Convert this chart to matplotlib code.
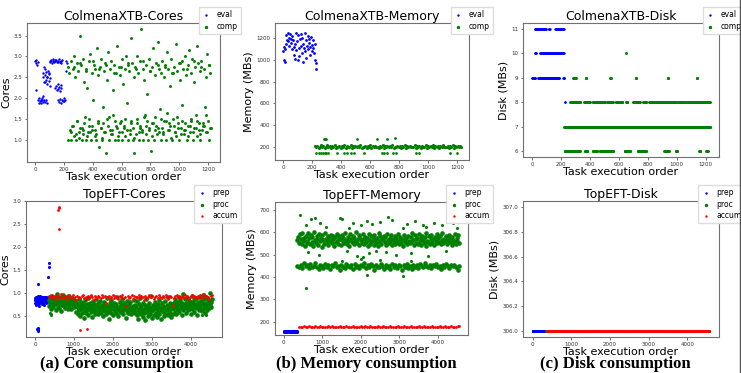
import numpy as np
import matplotlib
matplotlib.use("Agg")
import matplotlib.pyplot as plt
from matplotlib.lines import Line2D

W, H = 741, 373

# ---- ColmenaXTB cores ----
EVAL_CORES_X = [0, 4, 8, 12, 16, 3, 20, 24, 28, 32, 36, 40, 44, 48, 52, 56, 60, 66, 72, 78,
                52, 56, 60, 64, 68, 72, 76, 80, 84, 88, 92, 96, 100, 104, 58, 70, 82, 94,
                100, 105, 110, 115, 120, 125, 130, 135, 140, 145, 150, 155, 160, 165, 170, 175, 180, 185,
                140, 145, 150, 155, 160, 165, 170, 175, 180,
                160, 166, 172, 178, 184, 190, 196, 202, 208,
                212, 216, 220]
EVAL_CORES_Y = [2.90, 2.85, 2.92, 2.80, 2.88, 2.20, 1.95, 1.90, 2.00, 1.93, 1.97, 1.90, 2.02, 1.95, 1.92, 2.05, 1.97, 1.92, 1.95, 1.90,
                2.60, 2.50, 2.40, 2.55, 2.70, 2.45, 2.62, 2.35, 2.52, 2.66, 2.42, 2.58, 2.48, 2.30, 2.75, 2.38, 2.50, 2.60,
                2.90, 2.88, 2.92, 2.85, 2.90, 2.93, 2.87, 2.91, 2.89, 2.92, 2.86, 2.90, 2.88, 2.93, 2.87, 2.90, 2.85, 2.91,
                2.25, 2.30, 2.20, 2.35, 2.22, 2.28, 2.18, 2.32, 2.25,
                1.95, 1.92, 1.98, 1.90, 1.96, 1.93, 2.00, 1.94, 1.97,
                2.90, 2.65, 2.85]
COMP_CORES_RANGE = (225, 1220)
COMP_CORES = [2.75, 1.00, 2.60, 1.25, 2.90, 1.00, 1.35, 2.70, 3.00, 1.10, 2.50, 1.00, 2.85, 1.45, 2.65, 1.20,
              3.50, 1.30, 2.80, 1.00, 2.95, 1.15, 2.40, 1.55, 2.70, 1.00, 2.25, 1.20, 2.90, 1.35, 3.05, 1.00,
              2.60, 1.25, 1.95, 2.80, 1.10, 2.70, 1.00, 3.20, 1.40, 2.55, 0.85, 2.75, 1.30, 2.95, 1.00, 1.80,
              2.65, 1.20, 2.85, 0.70, 2.45, 1.50, 3.10, 1.00, 2.70, 1.25, 2.90, 1.15, 2.20, 1.60, 2.80, 1.00,
              2.60, 1.35, 3.25, 1.00, 2.75, 1.20, 2.55, 1.45, 2.95, 1.00, 2.35, 1.30, 2.70, 1.10, 3.00, 1.90,
              2.80, 1.00, 2.65, 1.25, 3.45, 1.40, 2.85, 1.00, 2.50, 0.70, 2.75, 1.15, 3.00, 1.50, 2.60, 1.00,
              2.90, 1.30, 3.65, 1.20, 2.70, 1.00, 2.45, 1.60, 2.80, 1.35, 2.10, 1.00, 2.95, 1.25, 2.65, 0.75,
              2.75, 1.40, 3.20, 1.00, 2.55, 1.55, 2.85, 1.15, 3.35, 1.30, 2.70, 1.75, 2.60, 1.00, 2.90, 1.20,
              2.50, 1.45, 2.80, 1.00, 3.10, 1.65, 2.70, 1.25, 2.30, 1.35, 2.95, 1.00, 2.60, 1.50, 2.75, 1.20,
              3.30, 1.10, 2.65, 1.40, 2.85, 1.00, 2.45, 1.30, 2.90, 1.85, 2.70, 1.15, 3.00, 1.25, 2.55, 1.00,
              2.80, 1.35, 3.15, 1.20, 2.60, 1.45, 2.95, 1.00, 2.40, 1.30, 2.75, 1.60, 3.25, 1.10, 2.85, 1.40,
              2.65, 1.00, 2.90, 1.25, 3.55, 1.35, 2.70, 1.80, 2.50, 1.20, 3.05, 1.45, 2.80, 1.00, 2.60, 1.30]
COMP_CORES_B_RANGE = (250, 1215)
COMP_CORES_B = [1.20, 1.35, 2.75, 1.15, 1.45, 1.05, 2.85, 1.30, 1.25, 1.40, 2.65, 1.10, 1.50, 1.20, 1.35, 2.90,
                1.25, 1.15, 1.45, 2.70, 1.30, 1.05, 1.40, 1.20, 2.80, 1.35, 1.55, 1.15, 1.25, 2.60, 1.45, 1.30,
                1.10, 1.40, 2.75, 1.20, 1.35, 1.50, 1.25, 2.85, 1.15, 1.45, 1.30, 1.05, 2.70, 1.40, 1.20, 1.35,
                1.25, 2.90, 1.55, 1.15, 1.45, 1.30, 2.65, 1.10, 1.40, 1.25, 1.35, 2.80, 1.20, 1.50, 1.30, 1.15,
                2.75, 1.45, 1.25, 1.40, 1.05, 2.60, 1.35, 1.20, 1.55, 1.30, 2.85, 1.15, 1.45, 1.25, 1.40, 2.70,
                1.10, 1.35, 1.50, 1.20, 2.90, 1.30, 1.45, 1.25, 1.15, 2.75, 1.40, 1.35, 1.60, 1.20, 2.80, 1.30]

# ---- ColmenaXTB memory ----
EVAL_MEM_RANGE = (0, 230)
EVAL_MEM = [1080, 1000, 1120, 980, 1100, 1150, 1230, 1180, 1250, 1170, 1200, 1130, 1240, 1190, 1160,
            1100, 1220, 1180, 1050, 1120, 1010, 1150, 1250, 1090, 1170, 1000, 1230, 1110, 1040, 1190,
            1130, 1240, 1060, 1200, 980, 1150, 1110, 1250, 1080, 1180, 1020, 1130, 1220, 1100, 1160,
            1190, 1050, 1120, 1210, 1080, 1140, 1180, 1110, 1060, 1150, 1000, 970, 920]
COMP_MEM_RANGE = (220, 1230)
COMP_MEM = [205, 195, 212, 190, 200, 218, 198, 208, 188, 203, 214, 196, 206, 192, 210, 200, 216, 194, 204, 198,
            211, 189, 207, 201, 215, 193, 209, 197, 203, 219, 191, 205, 199, 213, 195, 207, 202, 217, 190, 204,
            198, 210, 194, 206, 200, 214, 192, 208, 196, 212, 199, 203, 187, 209, 201, 216, 193, 205, 197, 211,
            195, 207, 202, 218, 190, 204, 199, 213, 196, 208, 194, 210, 200, 215, 192, 206, 198, 212, 195, 203,
            201, 217, 189, 205, 197, 209, 193, 211, 199, 204, 214, 191, 207, 196, 210, 200, 216, 194, 206, 198,
            213, 192, 208, 202, 218, 195, 204, 199, 211, 193, 207, 197, 215, 190, 205, 201, 209, 196, 212, 203]
COMP_MEM_OUT_X = [230, 250, 260, 275, 290, 300, 310, 370, 420, 440, 470, 490, 560, 680, 700, 720, 760, 780,
                  920, 940, 1150, 1200, 280, 290, 300, 510, 650, 720, 770]
COMP_MEM_OUT_Y = [140, 140, 140, 140, 140, 140, 140, 140, 140, 140, 140, 140, 140, 140, 140, 140, 140, 140,
                  140, 140, 140, 140, 270, 270, 270, 272, 275, 275, 285]

# ---- ColmenaXTB disk: (level, first task, last task) ----
EVAL_DISK_RUNS = [(11, 20, 100), (11, 115, 125), (11, 160, 222), (10, 20, 30), (10, 55, 220),
                  (9, 0, 25), (9, 40, 190), (9, 215, 225), (8, 225, 228)]
COMP_DISK_RUNS = [(7, 222, 1230),
                  (8, 265, 290), (8, 300, 335), (8, 360, 400), (8, 420, 505), (8, 520, 560), (8, 580, 625),
                  (8, 650, 660), (8, 700, 745), (8, 770, 790), (8, 810, 900), (8, 905, 1000),
                  (8, 1010, 1060), (8, 1070, 1230),
                  (6, 225, 330), (6, 365, 385), (6, 420, 450), (6, 470, 560), (6, 640, 680), (6, 730, 790),
                  (6, 915, 945), (6, 995, 1005), (6, 1155, 1165), (6, 1205, 1215),
                  (9, 285, 305), (9, 370, 375), (9, 540, 545), (9, 718, 722), (9, 938, 942), (9, 1138, 1142),
                  (10, 650, 652)]

# ---- TopEFT cores (hundredths of a core) ----
PREP_CORES_RANGE = (0, 345)
PREP_CORES = [85, 80, 90, 78, 88, 82, 92, 75, 86, 84, 91, 79, 87, 83, 94, 81, 89, 76, 85, 93, 80, 88, 72, 86,
              90, 82, 87, 95, 84, 79, 91, 86, 83, 89, 77, 92, 85, 88, 81, 90, 84, 87, 93, 80, 86, 89, 74, 91,
              83, 88, 85, 92, 82, 87, 90, 84, 79, 86, 93, 88, 81, 85, 90, 83, 87, 92, 86, 89, 84, 88]
PREP_CORES_OUT_X = [65, 68, 70, 72, 75, 80, 345, 350, 352]
PREP_CORES_OUT_Y = [0.22, 0.19, 0.25, 0.20, 0.23, 1.20, 1.35, 1.57, 1.65]
PROC_CORES_RANGE = (350, 4550)
PROC_CORES = [85, 72, 90, 78, 66, 95, 80, 74, 88, 70, 82, 93, 76, 64, 86, 79, 98, 71, 84, 68, 91, 77, 83, 62, 89,
              75, 81, 96, 73, 87, 69, 80, 92, 76, 85, 65, 78, 94, 72, 88, 80, 67, 84, 90, 74, 79, 86, 71, 83, 77,
              72, 60, 80, 55, 68, 88, 63, 75, 50, 70, 82, 58, 66, 78, 47, 73, 62, 85, 69, 57, 76, 64, 90, 52, 71,
              67, 80, 59, 74, 65, 48, 83, 70, 61, 77, 56, 68, 87, 63, 73, 54, 79, 66, 60, 72, 84, 58, 69, 75, 51,
              64, 81, 70, 62, 77, 55, 67, 89, 73, 60, 45, 71, 78, 63, 86, 58, 69, 74, 53, 66, 80, 61, 72, 57, 76,
              68, 92, 64, 50, 70, 82, 59, 67, 75, 62, 88, 71, 56, 65, 79, 73, 46, 68, 84, 61, 74, 58, 70, 77, 63,
              81, 55, 69, 66, 72, 60, 85, 64, 75, 57,
              70, 52, 84, 63, 45, 76, 58, 68, 90, 55, 72, 62, 48, 80, 66, 57, 74, 42, 69, 87, 60, 73, 51, 65, 78,
              56, 70, 95, 61, 67, 47, 75, 64, 53, 82, 69, 58, 72, 49, 66, 77, 60, 86, 54, 71, 63, 44, 79, 67, 59,
              73, 50, 68, 83, 62, 56, 75, 65, 92, 52, 70, 61, 78, 57, 66, 48, 74, 69, 55, 80,
              78, 62, 88, 70, 55, 82, 74, 66, 93, 59, 77, 85, 68, 72, 52, 80, 98, 64, 75, 69, 87, 58, 79, 71, 90,
              63, 76, 83, 67, 73, 56, 81, 95, 65, 78, 70, 86, 60, 74, 89, 68, 77, 53, 82, 72, 64, 91, 75, 69, 84,
              61, 79, 96, 66, 73, 87, 57, 80, 71, 92, 63, 76, 85, 68, 78, 100, 74, 82, 70, 88]
PROC_CORES_OUT_X = [380, 400, 420, 4300, 4400]
PROC_CORES_OUT_Y = [0.58, 0.55, 0.52, 0.52, 0.52]
ACCUM_CORES_RANGE = (360, 4550)
ACCUM_CORES = [95, 92, 97, 90, 94, 88, 96, 93, 91, 98, 89, 95, 92, 87, 96, 94, 90, 93, 97, 91, 85, 95, 92, 89,
               94, 96, 90, 93, 88, 95, 91, 97, 92, 86, 94, 90, 95, 93, 89, 96, 92, 94, 78, 91, 95, 88, 93, 97,
               90, 94, 92, 87, 95, 91, 96, 89, 93, 72, 94, 90, 92, 96, 88, 95, 93, 91, 97, 89, 94, 92, 86, 95,
               90, 93, 96, 91, 94, 88, 92, 95, 90, 97, 93, 89, 94, 91, 96, 92, 88, 95, 93, 75, 90, 94, 97, 91,
               93, 89, 95, 92, 96, 90, 94, 88, 93, 97, 91, 95, 92, 89, 94, 96, 90, 93, 98, 91, 95, 92, 88, 94, 96]
ACCUM_CORES_OUT_X = [600, 610, 615, 625, 1150, 1330]
ACCUM_CORES_OUT_Y = [2.82, 2.87, 2.85, 2.40, 0.20, 0.22]

# ---- TopEFT memory ----
PREP_MEM_RANGE = (0, 345)
PREP_MEM = [157, 155, 158, 156, 154, 157, 159, 155, 156, 158, 154, 157, 156, 159, 155, 157, 158, 154, 156, 157,
            155, 158, 156, 153, 157, 159, 155, 156, 158, 154, 157, 156, 155, 158, 157, 154, 156, 159, 155, 157]
PROC_MEM_RANGE = (350, 4550)
PROC_MEM_HI = [565, 580, 552, 590, 570, 545, 598, 560, 575, 538, 585, 562, 550, 595, 572, 548, 588, 558, 578, 540,
               600, 566, 553, 583, 571, 544, 592, 559, 576, 535, 586, 563, 549, 597, 569, 556, 581, 542, 574, 561,
               589, 551, 568, 584, 539, 577, 557, 594, 564, 547, 582, 570, 543, 587, 560, 575, 552, 596, 566, 548,
               579, 562, 537, 591, 571, 555, 584, 546, 573, 560, 599, 550, 568, 586, 541, 576, 563, 553, 590, 569,
               545, 580, 558, 572, 536, 593, 565, 549, 583, 561, 577, 544, 588, 567, 552, 574, 540, 596, 559, 581,
               547, 570, 563, 585, 554, 578, 542, 592, 566, 550, 575, 561, 587, 543, 569, 556, 582, 548, 573, 559,
               594, 545, 567, 580, 552, 571, 538, 589, 564, 555, 576, 546, 584, 562, 550, 578, 557, 597, 565, 541,
               586, 569, 553, 574, 547, 590, 560, 572, 544, 583, 566, 551, 577, 539, 595, 562, 556, 581, 548, 570,
               587, 553, 568, 543, 579, 561, 592, 550, 574, 558, 585, 545, 566, 598, 552, 571, 560, 583, 547, 576,
               563, 589, 554, 569, 541, 580, 565, 557, 593, 549, 572, 562, 586, 551]
PROC_MEM_LO = [450, 445, 455, 440, 460, 448, 452, 438, 457, 443, 450, 462, 446, 435, 453, 449, 441, 458, 444, 451,
               437, 455, 447, 460, 442, 450, 433, 454, 446, 439, 456, 448, 444, 452, 436, 458, 445, 450, 441, 453,
               447, 463, 438, 451, 444, 456, 449, 432, 455, 446, 442, 459, 450, 437, 453, 445, 448, 434, 457, 443,
               451, 440, 454, 447, 429, 452, 445, 458, 441, 449, 436, 455, 446, 452, 439, 457, 448, 443, 461, 450,
               444, 454, 438, 451, 447, 456, 442, 449, 435, 453, 446, 459, 450, 441, 455, 447, 452, 443, 431, 448]
PROC_MEM_OUT_X = [420, 580, 700, 800, 950, 1100, 1450, 1500, 1700, 1800, 2000, 2150, 2300, 2500, 2700, 2800,
                  3100, 3200, 3400, 3600, 3700, 3900, 4100, 4350, 4400, 4500,
                  620, 900, 1650, 1900, 2050, 2200, 2400, 2650, 2900, 3300, 3750, 4200,
                  580, 2150, 3100, 1500, 2500, 3300, 2000]
PROC_MEM_OUT_Y = [675, 630, 660, 665, 640, 625, 665, 660, 620, 640, 630, 650, 635, 645, 670, 655,
                  620, 635, 650, 630, 625, 640, 630, 665, 640, 620,
                  510, 500, 515, 495, 490, 505, 515, 510, 500, 505, 495, 515,
                  350, 408, 405, 470, 475, 470, 480]
ACCUM_MEM_RANGE = (400, 4550)
ACCUM_MEM = [176, 178, 175, 179, 177, 176, 180, 178, 175, 177, 179, 176, 178, 181, 177, 175, 178, 176, 179, 177,
             180, 176, 178, 175, 177, 179, 176, 178, 177, 180, 175, 178, 176, 179, 177, 178, 176, 175, 179, 177,
             178, 180, 176, 177, 179, 175, 178, 176, 177, 179, 178, 176, 180, 177, 175, 178, 179, 176, 177, 178,
             176, 179, 175, 177, 178, 180, 176, 178, 177, 179, 176, 175, 178, 177, 179, 176, 178, 180, 177, 176,
             178, 175, 179, 177, 178, 176, 177, 179, 178, 176, 181, 177, 175, 178, 179, 176, 177, 178, 180, 182]

# ---- TopEFT disk ----
PREP_DISK_RUNS = [(306.0, 0, 350)]
PROC_DISK_RUNS = [(306.0, 350, 4550)]
ACCUM_DISK_RUNS = [(306.0, 380, 1480), (306.0, 1520, 2900), (306.0, 2940, 3600), (306.0, 3640, 4560)]

BLUE, GREEN, RED = "#0000ff", "#008000", "#ff0000"
LEGEND_SIZES = {BLUE: 3, GREEN: 6, RED: 3}


def spread(rng, vals, scale=1.0):
    x = np.linspace(rng[0], rng[1], len(vals))
    return x, np.asarray(vals, dtype=float) * scale


def runs(run_list, step):
    xs, ys = [], []
    for lvl, a, b in run_list:
        xx = np.arange(a, b + 1, step)
        xs.append(xx)
        ys.append(np.full(len(xx), lvl))
    return np.concatenate(xs), np.concatenate(ys)


def dots(ax, x, y, color, size, label=None):
    ax.scatter(x, y, s=size, c=color, marker="o", linewidths=0, label=label)


def make_ax(fig, box):
    l, t, r, b = box
    ax = fig.add_axes([l / W, 1 - b / H, (r - l) / W, (b - t) / H])
    for s in ax.spines.values():
        s.set_color("#707070")
        s.set_linewidth(0.8)
    ax.tick_params(labelsize=4, length=1.8, width=0.5, pad=1.5, colors="#333333")
    ax.set_xlabel("Task execution order", fontsize=8, labelpad=0.5)
    return ax


def finish(ax, title, ylabel, legend_xy):
    ax.set_title(title, fontsize=9, pad=2)
    ax.set_ylabel(ylabel, fontsize=8, labelpad=2)
    leg = ax.legend(loc="upper right", bbox_to_anchor=(legend_xy[0] / W, 1 - legend_xy[1] / H),
                    bbox_transform=fig.transFigure, fontsize=5.5, framealpha=1, edgecolor="#dddddd",
                    fancybox=False, handlelength=1.2, handletextpad=0.8, borderpad=0.4,
                    labelspacing=0.35, borderaxespad=0)
    for h, col in zip(leg.legend_handles, [BLUE, GREEN, RED]):
        h.set_sizes([LEGEND_SIZES[col]])


fig = plt.figure(figsize=(W / 100, H / 100), dpi=100)

# (a) top: ColmenaXTB cores
ax = make_ax(fig, (27, 23, 220, 162))
dots(ax, EVAL_CORES_X, EVAL_CORES_Y, BLUE, 3, "eval")
cx, cy = spread(COMP_CORES_RANGE, COMP_CORES)
bx, by = spread(COMP_CORES_B_RANGE, COMP_CORES_B)
dots(ax, np.concatenate([cx, bx]), np.concatenate([cy, by]), GREEN, 4.5, "comp")
ax.set_xlim(-58, 1283)
ax.set_ylim(0.48, 3.8)
ax.set_xticks(range(0, 1201, 200))
ax.set_yticks([1.0, 1.5, 2.0, 2.5, 3.0, 3.5])
finish(ax, "ColmenaXTB-Cores", "Cores", (241, 7))

# (b) top: ColmenaXTB memory
ax = make_ax(fig, (275, 23, 469, 160))
dots(ax, *spread(EVAL_MEM_RANGE, EVAL_MEM), BLUE, 4, "eval")
dots(ax, *spread(COMP_MEM_RANGE, COMP_MEM), GREEN, 5, "comp")
dots(ax, COMP_MEM_OUT_X, COMP_MEM_OUT_Y, GREEN, 4)
ax.set_xlim(-55, 1283)
ax.set_ylim(80, 1340)
ax.set_xticks(range(0, 1201, 200))
ax.set_yticks(range(200, 1201, 200))
finish(ax, "ColmenaXTB-Memory", "Memory (MBs)", (493, 7))

# (c) top: ColmenaXTB disk
ax = make_ax(fig, (523, 23, 719, 157))
dots(ax, *runs(EVAL_DISK_RUNS, 3), BLUE, 3, "eval")
dots(ax, *runs(COMP_DISK_RUNS, 3), GREEN, 4.5, "comp")
ax.set_xlim(-62, 1292)
ax.set_ylim(5.75, 11.25)
ax.set_xticks(range(0, 1201, 200))
ax.set_yticks(range(6, 12))
finish(ax, "ColmenaXTB-Disk", "Disk (MBs)", (745, 7))

# (a) bottom: TopEFT cores
ax = make_ax(fig, (26, 201, 222, 337))
px, py = spread(PREP_CORES_RANGE, PREP_CORES, 0.01)
dots(ax, np.concatenate([px, PREP_CORES_OUT_X]), np.concatenate([py, PREP_CORES_OUT_Y]), BLUE, 5, "prep")
px, py = spread(PROC_CORES_RANGE, PROC_CORES, 0.01)
dots(ax, px, py, GREEN, 11, "proc")
dots(ax, PROC_CORES_OUT_X, PROC_CORES_OUT_Y, GREEN, 5)
px, py = spread(ACCUM_CORES_RANGE, ACCUM_CORES, 0.01)
dots(ax, np.concatenate([px, ACCUM_CORES_OUT_X]), np.concatenate([py, ACCUM_CORES_OUT_Y]), RED, 4, "accum")
ax.set_xlim(-230, 4810)
ax.set_ylim(0.05, 3.01)
ax.set_xticks(range(0, 4001, 1000))
ax.set_yticks([0.5, 1.0, 1.5, 2.0, 2.5, 3.0])
finish(ax, "TopEFT-Cores", "Cores", (241, 185))

# (b) bottom: TopEFT memory
ax = make_ax(fig, (275, 202, 468, 335))
dots(ax, *spread(PREP_MEM_RANGE, PREP_MEM), BLUE, 5, "prep")
hx, hy = spread(PROC_MEM_RANGE, PROC_MEM_HI)
lx, ly = spread(PROC_MEM_RANGE, PROC_MEM_LO)
dots(ax, np.concatenate([hx, lx]), np.concatenate([hy, ly]), GREEN, 11, "proc")
dots(ax, PROC_MEM_OUT_X, PROC_MEM_OUT_Y, GREEN, 5)
dots(ax, *spread(ACCUM_MEM_RANGE, ACCUM_MEM), RED, 4, "accum")
ax.set_xlim(-230, 4780)
ax.set_ylim(140, 735)
ax.set_xticks(range(0, 4001, 1000))
ax.set_yticks(range(200, 701, 100))
finish(ax, "TopEFT-Memory", "Memory (MBs)", (493, 185))

# (c) bottom: TopEFT disk
ax = make_ax(fig, (523, 201, 719, 337))
dots(ax, *runs(PREP_DISK_RUNS, 5), BLUE, 4, "prep")
dots(ax, *runs(PROC_DISK_RUNS, 20), GREEN, 5, "proc")
dots(ax, *runs(ACCUM_DISK_RUNS, 10), RED, 4, "accum")
ax.set_xlim(-250, 4820)
ax.set_ylim(305.95, 307.05)
ax.set_xticks(range(0, 4001, 1000))
ax.set_yticks([306.0, 306.2, 306.4, 306.6, 306.8, 307.0])
ax.yaxis.set_major_formatter(plt.FuncFormatter(lambda v, _: f"{v:.1f}"))
finish(ax, "TopEFT-Disk", "Disk (MBs)", (745, 185))

# sub-figure captions
for xc, txt in [(117, "(a) Core consumption"), (366, "(b) Memory consumption"), (615, "(c) Disk consumption")]:
    fig.text(xc / W, 1 - 364 / H, txt, ha="center", va="center", fontsize=12,
             fontweight="bold", family=["Liberation Serif", "DejaVu Serif"])

fig.add_artist(Line2D([739.5 / W, 739.5 / W], [0, 1], transform=fig.transFigure,
                      color="#555555", linewidth=1))

fig.savefig("out.png", dpi=100)
